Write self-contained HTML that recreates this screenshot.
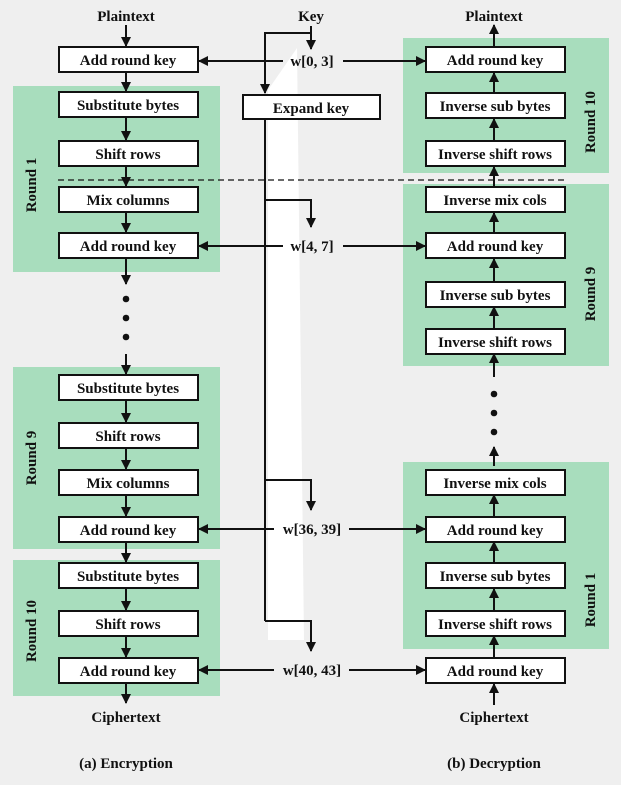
<!DOCTYPE html>
<html><head><meta charset="utf-8"><style>
html,body{margin:0;padding:0;background:#efefef}
svg{display:block}
text{font-family:"Liberation Serif",serif;font-weight:bold;font-size:15px;fill:#111}
.b{fill:#fff;stroke:#111;stroke-width:2}
.l{stroke:#111;stroke-width:2;fill:none}
.g{fill:#a8ddbd}
</style></head><body>
<svg width="621" height="785" viewBox="0 0 621 785" xmlns="http://www.w3.org/2000/svg">
<defs>
<marker id="a" viewBox="0 0 10 10" refX="9" refY="5" markerWidth="5" markerHeight="5" orient="auto-start-reverse"><path d="M0,0L10,5L0,10z" fill="#111"/></marker>
</defs>
<rect width="621" height="785" fill="#efefef"/>
<polygon points="268,90 297,48 304,640 268,640" fill="#fff"/>
<rect class="g" x="13" y="86" width="207" height="186"/>
<rect class="g" x="13" y="367" width="207" height="182"/>
<rect class="g" x="13" y="560" width="207" height="136"/>
<rect class="g" x="403" y="38" width="206" height="135"/>
<rect class="g" x="403" y="184" width="206" height="182"/>
<rect class="g" x="403" y="462" width="206" height="187"/>
<line x1="58" y1="180" x2="565" y2="180" stroke="#111" stroke-width="1.3" stroke-dasharray="6,4"/>

<g text-anchor="middle">
<text x="126" y="21">Plaintext</text>
<text x="126" y="722">Ciphertext</text>
<text x="126" y="768">(a) Encryption</text>
<text x="494" y="21">Plaintext</text>
<text x="494" y="722">Ciphertext</text>
<text x="494" y="768">(b) Decryption</text>
<text x="311" y="21">Key</text>
</g>
<g class="l" marker-end="url(#a)">
<line x1="126" y1="25" x2="126" y2="46"/>
<line x1="126" y1="72" x2="126" y2="91"/>
<line x1="126" y1="118" x2="126" y2="140"/>
<line x1="126" y1="166" x2="126" y2="186"/>
<line x1="126" y1="212" x2="126" y2="232"/>
<line x1="126" y1="259" x2="126" y2="284"/>
<line x1="126" y1="354" x2="126" y2="374"/>
<line x1="126" y1="400" x2="126" y2="422"/>
<line x1="126" y1="448" x2="126" y2="469"/>
<line x1="126" y1="495" x2="126" y2="516"/>
<line x1="126" y1="542" x2="126" y2="562"/>
<line x1="126" y1="589" x2="126" y2="610"/>
<line x1="126" y1="636" x2="126" y2="657"/>
<line x1="126" y1="684" x2="126" y2="703"/>
<line x1="494" y1="47" x2="494" y2="25"/>
<line x1="494" y1="93" x2="494" y2="73"/>
<line x1="494" y1="141" x2="494" y2="119"/>
<line x1="494" y1="187" x2="494" y2="167"/>
<line x1="494" y1="233" x2="494" y2="213"/>
<line x1="494" y1="282" x2="494" y2="259"/>
<line x1="494" y1="329" x2="494" y2="307"/>
<line x1="494" y1="377" x2="494" y2="354"/>
<line x1="494" y1="466" x2="494" y2="447"/>
<line x1="494" y1="517" x2="494" y2="495"/>
<line x1="494" y1="563" x2="494" y2="542"/>
<line x1="494" y1="611" x2="494" y2="589"/>
<line x1="494" y1="658" x2="494" y2="636"/>
<line x1="494" y1="705" x2="494" y2="684"/>
<line x1="311" y1="26" x2="311" y2="49"/>
<polyline points="311,33 265,33 265,93"/>
<polyline points="265,200 311,200 311,227"/>
<polyline points="265,480 311,480 311,510"/>
<polyline points="265,621 311,621 311,651"/>
<line x1="283" y1="61" x2="199" y2="61"/>
<line x1="343" y1="61" x2="425" y2="61"/>
<line x1="283" y1="246" x2="199" y2="246"/>
<line x1="343" y1="246" x2="425" y2="246"/>
<line x1="274" y1="529" x2="199" y2="529"/>
<line x1="349" y1="529" x2="425" y2="529"/>
<line x1="274" y1="670" x2="199" y2="670"/>
<line x1="349" y1="670" x2="425" y2="670"/>
</g>
<line class="l" x1="265" y1="119" x2="265" y2="621"/>
<g fill="#111">
<circle cx="126" cy="299" r="3.3"/><circle cx="126" cy="318" r="3.3"/><circle cx="126" cy="337" r="3.3"/>
<circle cx="494" cy="394" r="3.3"/><circle cx="494" cy="413" r="3.3"/><circle cx="494" cy="432" r="3.3"/>
</g>
<g>
<rect class="b" x="59" y="47" width="139" height="25"/>
<rect class="b" x="59" y="92" width="139" height="25"/>
<rect class="b" x="59" y="141" width="139" height="25"/>
<rect class="b" x="59" y="187" width="139" height="25"/>
<rect class="b" x="59" y="233" width="139" height="25"/>
<rect class="b" x="59" y="375" width="139" height="25"/>
<rect class="b" x="59" y="423" width="139" height="25"/>
<rect class="b" x="59" y="470" width="139" height="25"/>
<rect class="b" x="59" y="517" width="139" height="25"/>
<rect class="b" x="59" y="563" width="139" height="25"/>
<rect class="b" x="59" y="611" width="139" height="25"/>
<rect class="b" x="59" y="658" width="139" height="25"/>
<rect class="b" x="243" y="95" width="137" height="24"/>
<rect class="b" x="426" y="47" width="139" height="25"/>
<rect class="b" x="426" y="93" width="139" height="25"/>
<rect class="b" x="426" y="141" width="139" height="25"/>
<rect class="b" x="426" y="187" width="139" height="25"/>
<rect class="b" x="426" y="233" width="139" height="25"/>
<rect class="b" x="426" y="282" width="139" height="25"/>
<rect class="b" x="426" y="329" width="139" height="25"/>
<rect class="b" x="426" y="470" width="139" height="25"/>
<rect class="b" x="426" y="517" width="139" height="25"/>
<rect class="b" x="426" y="563" width="139" height="25"/>
<rect class="b" x="426" y="611" width="139" height="25"/>
<rect class="b" x="426" y="658" width="139" height="25"/>
</g>
<g text-anchor="middle">
<text x="128" y="65">Add round key</text>
<text x="128" y="110">Substitute bytes</text>
<text x="128" y="159">Shift rows</text>
<text x="128" y="205">Mix columns</text>
<text x="128" y="251">Add round key</text>
<text x="128" y="393">Substitute bytes</text>
<text x="128" y="441">Shift rows</text>
<text x="128" y="488">Mix columns</text>
<text x="128" y="535">Add round key</text>
<text x="128" y="581">Substitute bytes</text>
<text x="128" y="629">Shift rows</text>
<text x="128" y="676">Add round key</text>
<text x="311" y="113">Expand key</text>
<text x="495" y="65">Add round key</text>
<text x="495" y="111">Inverse sub bytes</text>
<text x="495" y="159">Inverse shift rows</text>
<text x="495" y="205">Inverse mix cols</text>
<text x="495" y="251">Add round key</text>
<text x="495" y="300">Inverse sub bytes</text>
<text x="495" y="347">Inverse shift rows</text>
<text x="495" y="488">Inverse mix cols</text>
<text x="495" y="535">Add round key</text>
<text x="495" y="581">Inverse sub bytes</text>
<text x="495" y="629">Inverse shift rows</text>
<text x="495" y="676">Add round key</text>
<text x="312" y="66">w[0, 3]</text>
<text x="312" y="251">w[4, 7]</text>
<text x="312" y="534">w[36, 39]</text>
<text x="312" y="675">w[40, 43]</text>
<text transform="translate(36,185) rotate(-90)">Round 1</text>
<text transform="translate(36,458) rotate(-90)">Round 9</text>
<text transform="translate(36,631) rotate(-90)">Round 10</text>
<text transform="translate(595,122) rotate(-90)">Round 10</text>
<text transform="translate(595,294) rotate(-90)">Round 9</text>
<text transform="translate(595,600) rotate(-90)">Round 1</text>
</g>
</svg>
</body></html>
